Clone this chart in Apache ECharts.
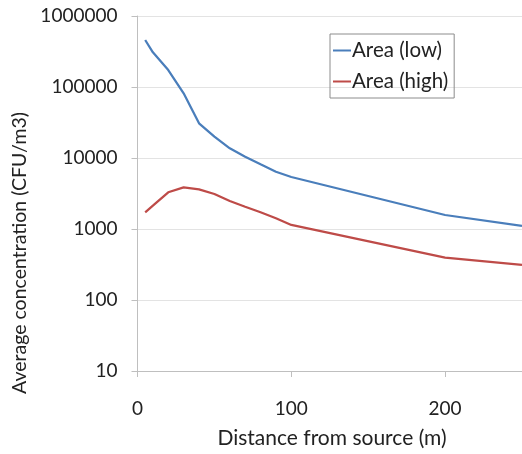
<!DOCTYPE html>
<html>
<head>
<meta charset="utf-8">
<script src="https://cdn.jsdelivr.net/npm/echarts@6/dist/echarts.min.js"></script>
<style>html,body{margin:0;padding:0;background:#fff}#c{width:522px;height:454px}</style>
</head>
<body>
<div id="c"></div>
<script>
const lowDistances = [5, 10, 20, 30, 40, 50, 60, 70, 80, 90, 100, 200, 250];
const lowValues = [459000, 308000, 173000, 81500, 30800, 20000, 13700, 10400, 8150, 6400, 5400, 1575, 1110];
const highDistances = [5, 10, 20, 30, 40, 50, 60, 70, 80, 90, 100, 200, 250];
const highValues = [1720, 2130, 3290, 3860, 3620, 3110, 2480, 2060, 1720, 1415, 1140, 394, 313];
const seriesNames = ['Area (low)', 'Area (high)'];
const xTitle = 'Distance from source (m)';
const yTitle = 'Average concentration (CFU/m3)';

const FONT = 'Lato';
const chart = echarts.init(document.getElementById('c'), null, {renderer: 'canvas'});
chart.setOption({
  animation: false,
  backgroundColor: '#fff',
  grid: {left: 137.5, right: -5.5, top: 16, bottom: 83, containLabel: false},
  legend: {
    orient: 'vertical', left: 330, top: 34,
    data: seriesNames.map(n => ({name: n, icon: 'rect'})),
    itemWidth: 18, itemHeight: 2, itemGap: 10,
    borderColor: '#8c8c8c', borderWidth: 1, borderRadius: 0,
    padding: [6, 6, 6, 3],
    textStyle: {fontFamily: FONT, fontSize: 20.5, color: '#222', padding: [0, 0, 0, -4]}
  },
  xAxis: {
    type: 'value', min: 0, max: 250, interval: 100,
    axisLine: {show: true, lineStyle: {color: '#bfbfbf', width: 1}},
    axisTick: {show: true, length: 6, lineStyle: {color: '#bfbfbf'}},
    splitLine: {show: false},
    axisLabel: {fontFamily: FONT, fontSize: 19, color: '#222', margin: 28, showMaxLabel: false}
  },
  yAxis: {
    type: 'log', logBase: 10, min: 10, max: 1000000,
    axisLine: {show: true, lineStyle: {color: '#bfbfbf', width: 1}},
    axisTick: {show: true, length: 6, lineStyle: {color: '#bfbfbf'}},
    splitLine: {show: true, lineStyle: {color: '#e3e3e3', width: 1}},
    minorTick: {show: false},
    axisLabel: {fontFamily: FONT, fontSize: 19, color: '#222', margin: 20,
      formatter: v => String(Math.round(v))}
  },
  graphic: [
    {type: 'text', x: 332, y: 438,
      style: {text: xTitle, font: '21px ' + FONT, fill: '#222', align: 'center', verticalAlign: 'middle'}},
    {type: 'text', x: 20, y: 253, rotation: Math.PI / 2,
      style: {text: yTitle, font: '19.5px ' + FONT, fill: '#222', align: 'center', verticalAlign: 'middle'}}
  ],
  series: [
    {name: seriesNames[0], type: 'line', showSymbol: false, symbol: 'none', color: '#4a7ebb',
      lineStyle: {width: 2.25, color: '#4a7ebb'},
      data: lowDistances.map((d, i) => [d, lowValues[i]])},
    {name: seriesNames[1], type: 'line', showSymbol: false, symbol: 'none', color: '#be4b48',
      lineStyle: {width: 2.25, color: '#be4b48'},
      data: highDistances.map((d, i) => [d, highValues[i]])}
  ]
});
</script>
</body>
</html>
